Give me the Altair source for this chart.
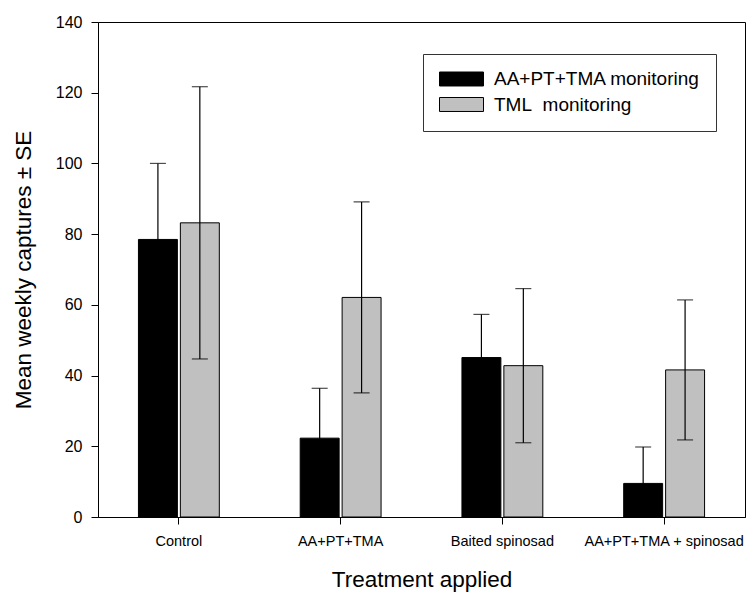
import altair as alt
import pandas as pd

treatments = ["Control", "AA+PT+TMA", "Baited spinosad", "AA+PT+TMA + spinosad"]
series = ["AA+PT+TMA monitoring", "TML\u00a0\u00a0monitoring"]
black_mean = [78.5, 22.3, 45.1, 9.5]
black_se = [21.5, 14.1, 12.2, 10.3]
gray_mean = [83.2, 62.1, 42.8, 41.6]
gray_se = [38.5, 27.0, 21.8, 19.8]
y_ticks = [0, 20, 40, 60, 80, 100, 120, 140]
colors = ["#000000", "#C0C0C0"]

rows = []
for means, ses, s in [(black_mean, black_se, series[0]), (gray_mean, gray_se, series[1])]:
    for t, m, e in zip(treatments, means, ses):
        rows.append({"treatment": t, "series": s, "mean": m,
                     "lo": max(m - e, 0), "hi": m + e})
df = pd.DataFrame(rows)

FONT = "Liberation Sans"

x_enc = alt.X("treatment:N", sort=treatments,
              scale=alt.Scale(paddingInner=0.5, paddingOuter=0.25),
              axis=alt.Axis(title="Treatment applied", labelAngle=0, labelFontSize=14.5,
                            titleFontSize=22.5, titleFontWeight="normal", tickSize=7,
                            labelPadding=10, titlePadding=21, domainColor="black",
                            tickColor="black", labelColor="black", titleColor="black",
                            labelFont=FONT, titleFont=FONT, labelLimit=300))
xoff = alt.XOffset("series:N", sort=series, scale=alt.Scale(paddingInner=0.071, paddingOuter=0))

base = alt.Chart(df)

bars = base.mark_bar(stroke="black", strokeWidth=1).encode(
    x=x_enc,
    xOffset=xoff,
    y=alt.Y("mean:Q", scale=alt.Scale(domain=[0, 140], nice=False),
            axis=alt.Axis(title="Mean weekly captures ± SE", values=y_ticks, grid=False,
                          labelFontSize=16, titleFontSize=22.5, titleFontWeight="normal",
                          tickSize=7, labelPadding=9, titlePadding=20,
                          domainColor="black", tickColor="black", labelColor="black",
                          titleColor="black", labelFont=FONT, titleFont=FONT)),
    color=alt.Color("series:N", sort=series,
                    scale=alt.Scale(domain=series, range=colors),
                    legend=alt.Legend(title=None, orient="none", legendX=325, legendY=32,
                                      strokeColor="#333333", fillColor="white", padding=16,
                                      symbolType="M-1,-0.318H1V0.318H-1Z", symbolSize=1936,
                                      symbolStrokeColor="black", symbolStrokeWidth=1,
                                      clipHeight=18, labelLimit=400,
                                      labelFontSize=19, labelFont=FONT, labelColor="black",
                                      labelOffset=10, rowPadding=6.5)),
)

rules = base.mark_rule(color="black", strokeWidth=1.2).encode(
    x=alt.X("treatment:N", sort=treatments),
    xOffset=xoff,
    y="lo:Q",
    y2="hi:Q",
)

caps_hi = base.mark_tick(color="black", thickness=1.2, size=16, orient="horizontal").encode(
    x=alt.X("treatment:N", sort=treatments),
    xOffset=xoff,
    y="hi:Q",
)
caps_lo = base.mark_tick(color="black", thickness=1.2, size=16, orient="horizontal").encode(
    x=alt.X("treatment:N", sort=treatments),
    xOffset=xoff,
    y="lo:Q",
)

chart = alt.layer(bars, rules, caps_hi, caps_lo).properties(
    width=647, height=495,
    autosize=alt.AutoSizeParams(type="none"),
    padding={"left": 98, "top": 22, "right": 4, "bottom": 75},
    background="white",
).configure_view(stroke="black", strokeWidth=1)

chart.save("out.html", embed_options={"renderer": "svg", "actions": False})
